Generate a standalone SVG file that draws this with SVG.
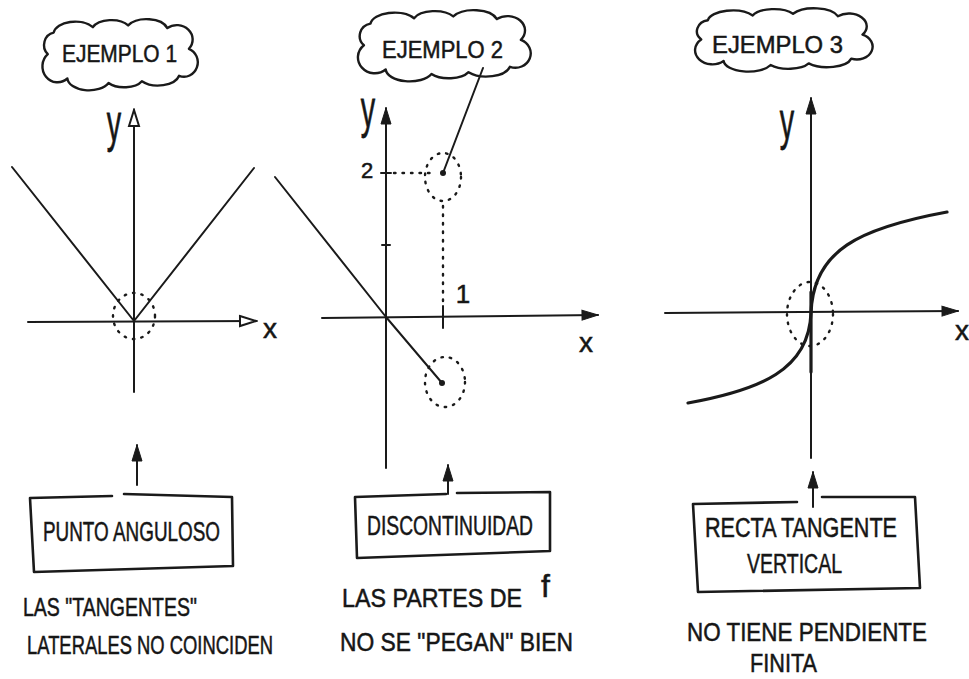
<svg xmlns="http://www.w3.org/2000/svg" xmlns:xlink="http://www.w3.org/1999/xlink" width="969" height="679" viewBox="0 0 969 679">
<style>
.ln{fill:none;stroke:#1a1a1a;stroke-width:2;stroke-linecap:round;stroke-linejoin:round}
.thick{fill:none;stroke:#1a1a1a;stroke-width:3.2;stroke-linecap:round}
.dot{fill:none;stroke:#1a1a1a;stroke-width:2.4;stroke-linecap:round;stroke-dasharray:1.5 7}
.box{fill:none;stroke:#1a1a1a;stroke-width:2.6;stroke-linecap:round;stroke-linejoin:round}
.cl{fill:#fff;stroke:#1a1a1a;stroke-width:2.4;vector-effect:non-scaling-stroke;stroke-linejoin:round}
.t{font-family:"Liberation Sans Narrow","Liberation Sans",Arial,sans-serif;fill:#161616;stroke:#161616;stroke-width:0.5}
.h{font-size:24px}
.b{font-size:27px}
.s{font-size:25px}
</style>
<defs>
<path id="cloud" class="cl" d="M10,38 A12,14 0 0 1 16,14 A22,14 0 0 1 56,8 A20,12 0 0 1 92,6 A22,14 0 0 1 132,9 A16,16 0 0 1 154,32 A14,16 0 0 1 144,62 A22,14 0 0 1 106,68 A20,12 0 0 1 72,70 A22,14 0 0 1 30,65 A14,16 0 0 1 10,38 Z"/>
<marker id="ah" markerUnits="userSpaceOnUse" markerWidth="18" markerHeight="12" refX="16" refY="5" orient="auto" viewBox="-1 -1 18 12">
<path d="M0,0 L16,5 L0,10 Z" fill="#1a1a1a" stroke="#1a1a1a" stroke-width="1"/>
</marker>
<marker id="ao" markerUnits="userSpaceOnUse" markerWidth="20" markerHeight="14" refX="16" refY="5" orient="auto" viewBox="-2 -2 20 14">
<path d="M0,0 L16,5 L0,10 Z" fill="#fff" stroke="#1a1a1a" stroke-width="2"/>
</marker>
</defs>
<rect width="969" height="679" fill="#fff"/>

<!-- Panel 1 -->
<g id="ejemplo1">
<use xlink:href="#cloud" href="#cloud" transform="translate(38,20) scale(0.98,0.9)"/>
<text class="t h" x="62" y="62" textLength="115" lengthAdjust="spacingAndGlyphs">EJEMPLO 1</text>
</g>
<g id="graph1">
<line class="ln" x1="134" y1="392" x2="134" y2="110" marker-end="url(#ao)"/>
<line class="ln" x1="28" y1="322" x2="256" y2="321" marker-end="url(#ao)"/>
<polyline class="ln" points="12,167 134,321 254,168"/>
<ellipse class="dot" cx="134" cy="316" rx="21" ry="23"/>
<text class="t" font-size="36" transform="translate(114,141) scale(0.8,1.5)" text-anchor="middle">y</text>
<text class="t" font-size="28" x="270" y="338" text-anchor="middle">x</text>
</g>
<g id="box1">
<path class="box" d="M112,496 L30,498 L34,572 L233,566 L232,497 L124,494"/>
<text class="t b" x="43" y="541" textLength="177" lengthAdjust="spacingAndGlyphs">PUNTO ANGULOSO</text>
</g>
<g id="note1">
<text class="t s" x="23" y="616" textLength="174" lengthAdjust="spacingAndGlyphs">LAS "TANGENTES"</text>
<text class="t s" x="27" y="654" textLength="246" lengthAdjust="spacingAndGlyphs">LATERALES  NO COINCIDEN</text>
</g>

<!-- Panel 2 -->
<g id="ejemplo2">
<use xlink:href="#cloud" href="#cloud" transform="translate(353,11) scale(1.09,0.9)"/>
<text class="t h" x="382" y="58" textLength="121" lengthAdjust="spacingAndGlyphs">EJEMPLO 2</text>
</g>
<g id="graph2">
<line class="ln" x1="386" y1="468" x2="386" y2="108" marker-end="url(#ah)"/>
<line class="ln" x1="322" y1="318" x2="598" y2="315" marker-end="url(#ah)"/>
<line class="ln" x1="381" y1="173" x2="391" y2="173"/>
<line class="ln" x1="382" y1="245" x2="390" y2="245"/>
<line class="ln" x1="443" y1="306" x2="443" y2="328"/>
<line class="dot" x1="394" y1="173" x2="432" y2="173"/>
<line class="dot" x1="443" y1="206" x2="443" y2="302"/>
<polyline class="ln" points="275,177 386,317 442,383"/>
<ellipse class="dot" cx="443" cy="177" rx="18" ry="24"/>
<ellipse class="dot" cx="445" cy="382" rx="20" ry="25"/>
<circle cx="443" cy="173" r="3" fill="#1a1a1a"/>
<circle cx="442" cy="383" r="3" fill="#1a1a1a"/>
<text class="t" font-size="36" transform="translate(368,127) scale(0.8,1.5)" text-anchor="middle">y</text>
<text class="t" font-size="22" x="367" y="178" text-anchor="middle">2</text>
<text class="t" font-size="26" x="463" y="303" text-anchor="middle">1</text>
<text class="t" font-size="28" x="586" y="352" text-anchor="middle">x</text>
</g>
<g id="box2">
<path class="box" d="M446,494 L355,497 L357,558 L550,551 L550,492 L457,493"/>
<text class="t b" x="367" y="535" textLength="166" lengthAdjust="spacingAndGlyphs">DISCONTINUIDAD</text>
</g>
<g id="note2">
<text class="t s" x="342" y="607"><tspan textLength="180" lengthAdjust="spacingAndGlyphs">LAS PARTES DE</tspan><tspan x="541" dy="-10" font-size="32">f</tspan></text>
<text class="t s" x="340" y="651" textLength="233" lengthAdjust="spacingAndGlyphs">NO SE "PEGAN" BIEN</text>
</g>

<!-- Panel 3 -->
<g id="ejemplo3">
<use xlink:href="#cloud" href="#cloud" transform="translate(690,9) scale(1.12,0.8)"/>
<text class="t h" x="712" y="53" textLength="131" lengthAdjust="spacingAndGlyphs">EJEMPLO 3</text>
</g>
<g id="graph3">
<line class="ln" x1="811" y1="458" x2="811" y2="98" marker-end="url(#ah)"/>
<line class="ln" x1="665" y1="313" x2="958" y2="311" marker-end="url(#ah)"/>
<line class="thick" x1="811" y1="292" x2="811" y2="372"/>
<path class="thick" d="M688,403 C760,390 809,370 811,313 C813,250 860,228 947,212"/>
<ellipse class="dot" cx="810" cy="314" rx="23" ry="32"/>
<text class="t" font-size="36" transform="translate(787,139) scale(0.8,1.5)" text-anchor="middle">y</text>
<text class="t" font-size="28" x="962" y="340" text-anchor="middle">x</text>
</g>
<g id="box3">
<path class="box" d="M797,502 L693,504 L698,592 L920,588 L915,497 L822,497"/>
<text class="t b" x="705" y="537" textLength="192" lengthAdjust="spacingAndGlyphs">RECTA TANGENTE</text>
<text class="t b" x="747" y="573" textLength="95" lengthAdjust="spacingAndGlyphs">VERTICAL</text>
</g>
<g id="note3">
<text class="t s" x="687" y="641" textLength="240" lengthAdjust="spacingAndGlyphs">NO TIENE  PENDIENTE</text>
<text class="t s" x="750" y="672" textLength="67" lengthAdjust="spacingAndGlyphs">FINITA</text>
</g>

<!-- Connectors -->
<g id="connectors">
<line class="ln" x1="137" y1="485" x2="137" y2="445" marker-end="url(#ah)"/>
<line class="ln" x1="448" y1="494" x2="448" y2="465" marker-end="url(#ah)"/>
<line class="ln" x1="813" y1="507" x2="813" y2="472" marker-end="url(#ah)"/>
<line class="ln" x1="483" y1="68" x2="443" y2="173"/>
</g>
</svg>
